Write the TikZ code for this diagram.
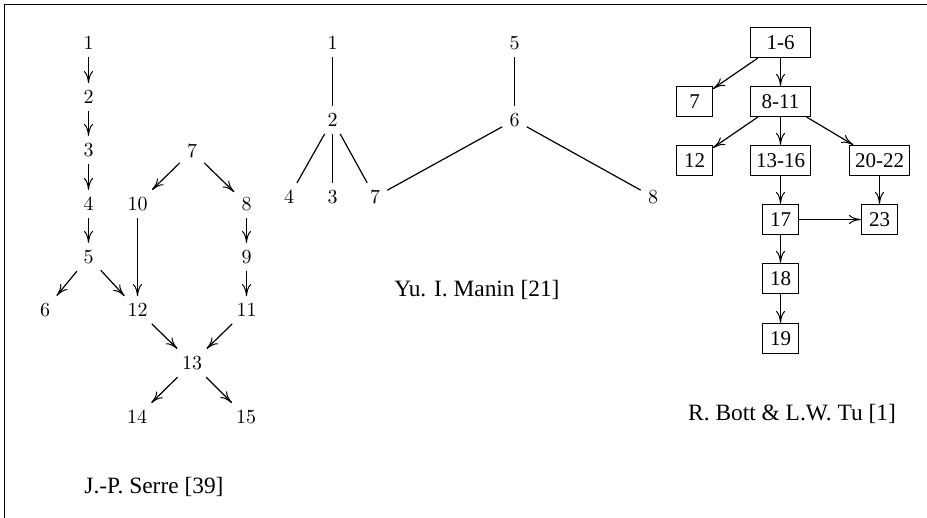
\documentclass[tikz,border=0pt]{standalone}
\usepackage{fontspec}
\newfontfamily\timesf{Liberation Serif}
\usetikzlibrary{arrows.meta}
\begin{document}
\begin{tikzpicture}[x=0.5pt,y=-0.5pt,
  line width=0.6pt,
  arr/.style={-{Computer Modern Rightarrow[length=6pt,width=4.6pt,line width=0.5pt]}},
  num/.style={font=\fontsize{10}{12}\selectfont},
  bx/.style={draw,font=\timesf\fontsize{10.5}{12}\selectfont,minimum height=15pt,inner sep=0pt,minimum width=18pt},
  wbx/.style={bx,minimum width=30pt},
  captxt/.style={font=\timesf\fontsize{11.7}{14}\selectfont}]
\useasboundingbox (0,0) rectangle (927,518);
\draw[line width=0.7pt] (4.5,518) -- (4.5,4.5) -- (927,4.5);

% Serre
\node[num] (s1) at (88.5,43) {1};
\node[num] (s2) at (88.5,97) {2};
\node[num] (s3) at (88.5,150) {3};
\node[num] (s4) at (88.5,204) {4};
\node[num] (s5) at (88.5,257) {5};
\node[num] (s6) at (45,310) {6};
\node[num] (s7) at (192,151) {7};
\node[num] (s10) at (137.5,204) {10};
\node[num] (s8) at (246.5,204) {8};
\node[num] (s9) at (246.5,257) {9};
\node[num] (s12) at (137.5,310) {12};
\node[num] (s11) at (246.5,310) {11};
\node[num] (s13) at (192,363) {13};
\node[num] (s14) at (137,417) {14};
\node[num] (s15) at (246,417) {15};
\node[captxt] (scap) at (154,487) {J.-P. Serre [39]};
\draw[arr] (s1) -- (s2);
\draw[arr] (s2) -- (s3);
\draw[arr] (s3) -- (s4);
\draw[arr] (s4) -- (s5);
\draw[arr] (s5) -- (s6);
\draw[arr] (s5) -- (s12);
\draw[arr] (s7) -- (s10);
\draw[arr] (s7) -- (s8);
\draw[arr] (s8) -- (s9);
\draw[arr] (s9) -- (s11);
\draw[arr] (s10) -- (s12);
\draw[arr] (s12) -- (s13);
\draw[arr] (s11) -- (s13);
\draw[arr] (s13) -- (s14);
\draw[arr] (s13) -- (s15);

% Manin
\node[num] (m1) at (332.5,43) {1};
\node[num] (m2) at (332.5,120) {2};
\node[num] (m4) at (289,197) {4};
\node[num] (m3) at (332.5,197) {3};
\node[num] (m7) at (375,197) {7};
\node[num] (m5) at (514.5,43) {5};
\node[num] (m6) at (514.5,120) {6};
\node[num] (m8) at (653,197) {8};
\node[captxt] (mcap) at (477,290) {Yu. I. Manin [21]};
\draw (m1) -- (m2);
\draw (m2) -- (m4);
\draw (m2) -- (m3);
\draw (m2) -- (m7);
\draw (m5) -- (m6);
\draw (m6) -- (m7);
\draw (m6) -- (m8);

% Bott & Tu
\node[wbx] (b16) at (780.5,42.5) {1-6};
\node[bx] (b7) at (694.5,101.5) {7};
\node[wbx] (b811) at (780.5,101.5) {8-11};
\node[bx] (b12) at (694.5,160.5) {12};
\node[wbx] (b1316) at (780.5,160.5) {13-16};
\node[wbx] (b2022) at (879.5,160.5) {20-22};
\node[bx] (b17) at (780.5,219.5) {17};
\node[bx] (b23) at (879.5,219.5) {23};
\node[bx] (b18) at (780.5,278.5) {18};
\node[bx] (b19) at (780.5,338.5) {19};
\node[captxt] (bcap) at (792,414) {R. Bott \& L.W. Tu [1]};
\draw[arr] (b16) -- (b7);
\draw[arr] (b16) -- (b811);
\draw[arr] (b811) -- (b12);
\draw[arr] (b811) -- (b1316);
\draw[arr] (b811) -- (b2022);
\draw[arr] (b1316) -- (b17);
\draw[arr] (b2022) -- (b23);
\draw[arr] (b17) -- (b23);
\draw[arr] (b17) -- (b18);
\draw[arr] (b18) -- (b19);
\end{tikzpicture}
\end{document}
